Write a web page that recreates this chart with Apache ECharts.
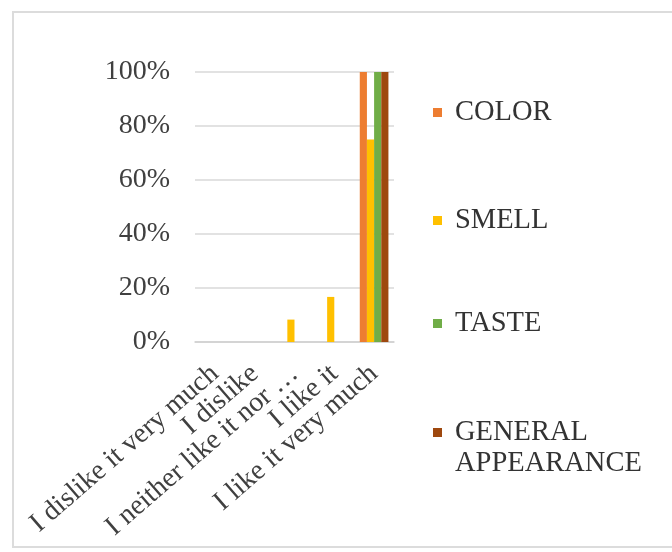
<!DOCTYPE html>
<html>
<head>
<meta charset="utf-8">
<script src="https://cdn.jsdelivr.net/npm/echarts@6/dist/echarts.min.js"></script>
<style>
html, body { margin: 0; padding: 0; background: #fff; }
#chart { width: 672px; height: 552px; }
.frame {
  position: absolute; left: 12px; top: 11px; width: 700px; height: 533px;
  border: 2px solid #dcdcdc; pointer-events: none;
}
</style>
</head>
<body>
<div id="chart"></div>
<div class="frame"></div>
<script>
var categories = ['I dislike it very much', 'I dislike', 'I neither like it nor dislike it', 'I like it', 'I like it very much'];
var colorValues = [0, 0, 0, 0, 100];
var smellValues = [0, 0, 8.3, 16.7, 75];
var tasteValues = [0, 0, 0, 0, 100];
var generalValues = [0, 0, 0, 0, 100];
var yTicks = [0, 20, 40, 60, 80, 100];

var serif = "'Liberation Serif', 'Times New Roman', serif";
var textColor = '#404040';

// one legend per item so each can sit where it does in the picture
function legendItem(name, top) {
  return {
    orient: 'vertical',
    left: 433,
    top: top,
    padding: 0,
    icon: 'rect',
    itemWidth: 9,
    itemHeight: 9,
    data: [name],
    // blank first line keeps the icon level with "GENERAL"
    formatter: function (n) { return n === 'GENERAL APPEARANCE' ? ' \nGENERAL\nAPPEARANCE' : n; },
    textStyle: {
      fontFamily: serif, fontSize: 28.5, color: '#333', lineHeight: 31,
      padding: [0, 0, 0, 8]
    }
  };
}

var myChart = echarts.init(document.getElementById('chart'));
myChart.setOption({
  animation: false,
  color: ['#ED7D31', '#FFC000', '#70AD47', '#9E480E'],
  grid: { left: 195, right: 278, top: 72, bottom: 210 },
  legend: [
    legendItem('COLOR', 97),
    legendItem('SMELL', 205),
    legendItem('TASTE', 308),
    legendItem('GENERAL APPEARANCE', 386)
  ],
  xAxis: {
    type: 'category',
    data: categories,
    axisLine: { lineStyle: { color: '#d0d0d0', width: 1.5 } },
    axisTick: { show: false },
    axisLabel: {
      interval: 0,
      rotate: 41,
      margin: 28,
      fontFamily: serif,
      fontSize: 28,
      color: textColor,
      formatter: function (v) { return v.length > 22 ? v.slice(0, 21) + ' …' : v; }
    }
  },
  yAxis: {
    type: 'value',
    min: yTicks[0],
    max: yTicks[yTicks.length - 1],
    interval: yTicks[1] - yTicks[0],
    axisLine: { show: false },
    axisTick: { show: false },
    splitLine: { lineStyle: { color: '#d9d9d9', width: 1.5 } },
    axisLabel: {
      margin: 25,
      fontFamily: serif,
      fontSize: 28,
      color: textColor,
      formatter: '{value}%'
    }
  },
  series: [
    { name: 'COLOR', type: 'bar', data: colorValues, barGap: '0%', barCategoryGap: '28%' },
    { name: 'SMELL', type: 'bar', data: smellValues },
    { name: 'TASTE', type: 'bar', data: tasteValues },
    { name: 'GENERAL APPEARANCE', type: 'bar', data: generalValues }
  ]
});
</script>
</body>
</html>
